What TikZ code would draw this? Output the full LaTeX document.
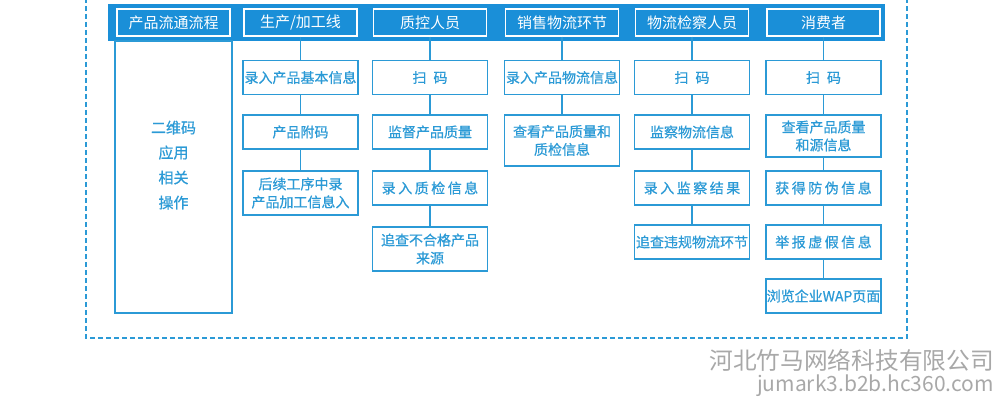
\documentclass[tikz,border=0pt]{standalone}
\usepackage{fontspec}
\setmainfont{Noto Sans CJK SC}
\newfontfamily\boxfont{Noto Sans CJK SC}[FakeBold=0.6]
\usepackage{xcolor}
\usepackage{tikz}
\usetikzlibrary{arrows}
\definecolor{flowblue}{HTML}{1A8FD8}
\definecolor{lineblue}{HTML}{2B9AD6}
\definecolor{markgray}{HTML}{A8A8A8}
\newcommand{\gap}{\hspace{2.5pt}}

\tikzset{
  head/.style={draw=white,fill=flowblue,line width=1.5pt,text=white,
    minimum width=113pt,minimum height=27pt,font=\fontsize{15}{18}\selectfont},
  box/.style={draw=lineblue,fill=white,line width=1.5pt,text=lineblue,
    minimum width=115pt,minimum height=34pt,align=center,
    font=\boxfont\fontsize{14}{18}\selectfont},
  link/.style={draw=lineblue,line width=1.5pt},
}

\begin{document}
\begin{tikzpicture}[x=1pt,y=-1pt,inner sep=0pt]
\useasboundingbox (0,0) rectangle (1000,401);
\draw[lineblue,line width=1.5pt,dash pattern=on 5pt off 3pt] (86,-10) rectangle (907,338);
\node[fill=flowblue,minimum width=777pt,minimum height=37pt] (band) at (496.5,22.5) {};

% headers
\node[head] (HA) at (173.5,22.5) {产品流通流程};
\node[head] (HB) at (300.5,22.5) {生产/加工线};
\node[head] (HC) at (430,22.5) {质控人员};
\node[head] (HD) at (562,22.5) {销售物流环节};
\node[head] (HE) at (692,22.5) {物流检察人员};
\node[head] (HF) at (823.5,22.5) {消费者};

\node[box,minimum width=117pt,minimum height=272pt,font=\boxfont\fontsize{15}{25}\selectfont] (A) at (173.5,177) {二维码\\应用\\相关\\操作\\~};

\node[box] (B1) at (300.5,77.5) {录入产品基本信息};
\node[box] (B2) at (300.5,132) {产品附码};
\node[box,minimum height=44pt] (B3) at (300.5,193) {后续工序中录\\产品加工信息入};

\node[box] (C1) at (430,77.5) {扫\enspace 码};
\node[box] (C2) at (430,132) {监督产品质量};
\node[box] (C3) at (430,188) {录\gap 入\gap 质\gap 检\gap 信\gap 息};
\node[box,minimum height=44pt] (C4) at (430,249) {追查不合格产品\\来源};

\node[box] (D1) at (562,77.5) {录入产品物流信息};
\node[box,minimum height=51pt] (D2) at (562,140.5) {查看产品质量和\\质检信息};

\node[box] (E1) at (692,77.5) {扫\enspace 码};
\node[box] (E2) at (692,132) {监察物流信息};
\node[box] (E3) at (692,188) {录\gap 入\gap 监\gap 察\gap 结\gap 果};
\node[box] (E4) at (692,242) {追查违规物流环节};

\node[box] (F1) at (823.5,77.5) {扫\enspace 码};
\node[box,minimum height=42pt] (F2) at (823.5,136) {查看产品质量\\和源信息};
\node[box] (F3) at (823.5,188) {获\gap 得\gap 防\gap 伪\gap 信\gap 息};
\node[box] (F4) at (823.5,242) {举\gap 报\gap 虚\gap 假\gap 信\gap 息};
\node[box] (F5) at (823.5,296) {浏览企业WAP页面};

\path[link] (HB) edge (B1) (B1) edge (B2) (B2) edge (B3);
\path[link] (HC) edge (C1) (C1) edge (C2) (C2) edge (C3) (C3) edge (C4);
\path[link] (HD) edge (D1) (D1) edge (D2);
\path[link] (HE) edge (E1) (E1) edge (E2) (E2) edge (E3) (E3) edge (E4);
\path[link] (HF) edge (F1) (F1) edge (F2) (F2) edge (F3) (F3) edge (F4) (F4) edge (F5);

\node[anchor=east,text=markgray,font=\fontsize{23.7}{24}\selectfont] (W1) at (994,360) {河北竹马网络科技有限公司};
\node[anchor=east,text=markgray,font=\fontsize{21}{24}\selectfont] (W2) at (994,386) {jumark3.b2b.hc360.com};
\end{tikzpicture}
\end{document}
